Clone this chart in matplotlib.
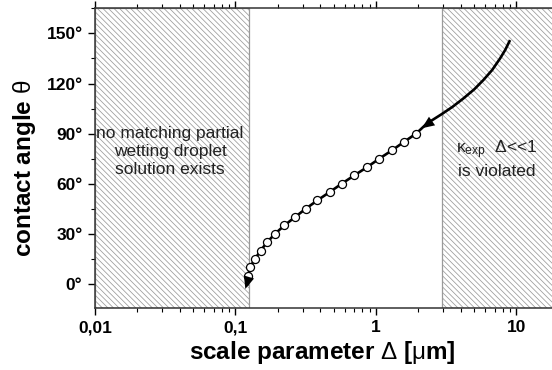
import matplotlib
matplotlib.use("Agg")
import matplotlib.pyplot as plt
from matplotlib.ticker import FixedLocator, NullFormatter, LogLocator

# ---- data ----
curve_delta = [0.1215, 0.1234, 0.1268, 0.1377, 0.151, 0.168, 0.191, 0.2225, 0.265, 0.316,
               0.382, 0.468, 0.570, 0.701, 0.867, 1.055, 1.30, 1.58, 1.93, 2.3,
               2.94, 3.5, 4.18, 5.0, 5.8, 6.7, 7.64, 8.3, 9.0]
curve_theta = [-1.0, 5, 10, 15, 20, 25, 30, 35, 40, 45,
               50, 55, 60, 65, 70, 75, 80, 85, 90, 96,
               101.7, 106, 111, 116.5, 122, 128, 135, 140, 146]
circle_delta = [0.1234, 0.1268, 0.1377, 0.151, 0.168, 0.191, 0.2225, 0.265, 0.316,
                0.382, 0.468, 0.570, 0.701, 0.867, 1.055, 1.30, 1.58, 1.93]
circle_theta = [5, 10, 15, 20, 25, 30, 35, 40, 45, 50, 55, 60, 65, 70, 75, 80, 85, 90]
arrow_tip_delta = [0.1175, 2.12]
arrow_tip_theta = [-3.0, 93.2]
arrow_tail_delta = [0.1235, 2.6]
arrow_tail_theta = [3.0, 98.5]
region_left = (0.01, 0.125)
region_right = (2.95, 20)
xticks = [0.01, 0.1, 1, 10]
xticklabels = ["0,01", "0,1", "1", "10"]
yticks = [0, 30, 60, 90, 120, 150]
yticklabels = ["0°", "30°", "60°", "90°", "120°", "150°"]

plt.rcParams['font.family'] = ['Liberation Sans', 'DejaVu Sans']
plt.rcParams['mathtext.fontset'] = 'custom'
plt.rcParams['mathtext.rm'] = 'Liberation Sans'
plt.rcParams['mathtext.it'] = 'Liberation Sans:italic'
plt.rcParams['mathtext.bf'] = 'Liberation Sans:bold'
plt.rcParams['hatch.linewidth'] = 0.55

W, H = 552, 370
fig = plt.figure(figsize=(W / 100, H / 100), dpi=100)
x0, x1 = 95, 95 + 3.301 * 140.5
y0, y1 = 308, 8
ax = fig.add_axes([x0 / W, (H - y0) / H, (x1 - x0) / W, (y0 - y1) / H])
ax.set_xscale('log')
ax.set_xlim(0.01, 20)
ax.set_ylim(-14.4, 165.2)

for (a, b) in (region_left, region_right):
    ax.axvspan(a, b, facecolor='white', edgecolor='#9a9a9a', hatch='\\' * 6, lw=0.9, zorder=0)

ax.plot(curve_delta, curve_theta, color='black', lw=1.9, zorder=3, solid_capstyle='butt')
ax.plot(circle_delta, circle_theta, 'o', ms=5.8, mfc='white', mec='black', mew=0.9, zorder=4)
for i in range(len(arrow_tip_delta)):
    ax.annotate('', xy=(arrow_tip_delta[i], arrow_tip_theta[i]),
                xytext=(arrow_tail_delta[i], arrow_tail_theta[i]),
                arrowprops=dict(arrowstyle='-|>,head_length=0.9,head_width=0.38',
                                color='black', lw=0, shrinkA=0, shrinkB=0), zorder=5)

ax.xaxis.set_major_locator(FixedLocator(xticks))
ax.set_xticklabels(xticklabels)
ax.xaxis.set_minor_locator(LogLocator(base=10, subs=range(2, 10)))
ax.xaxis.set_minor_formatter(NullFormatter())
ax.set_yticks(yticks)
ax.set_yticklabels(yticklabels)
ax.yaxis.set_minor_locator(FixedLocator(range(-15, 166, 15)))

ax.tick_params(axis='both', which='major', direction='out', length=5, width=1, labelsize=12.5, pad=4)
ax.tick_params(axis='both', which='minor', direction='out', length=3, width=0.8)
ax.tick_params(axis='x', which='both', top=True)
for lab in ax.get_xticklabels() + ax.get_yticklabels():
    lab.set_fontweight('bold')
for s in ax.spines.values():
    s.set_color('#333333')
    s.set_linewidth(1.1)

ax.set_xlabel(r'scale parameter $\mathrm{\Delta}$ [$\mathrm{\mu}$m]', fontsize=17.5, fontweight='bold')
ax.xaxis.set_label_coords((322 - x0) / (x1 - x0), -(352 - y0) / (y0 - y1), transform=ax.transAxes)
ax.xaxis.label.set_va('center')
ax.set_ylabel(r'contact angle $\mathrm{\theta}$', fontsize=17.5, fontweight='bold')
ax.yaxis.set_label_coords(-(x0 - 25) / (x1 - x0), (y0 - 168) / (y0 - y1), transform=ax.transAxes)
ax.yaxis.label.set_va('center')

ax.text(0.0342, 79, 'no matching partial\nwetting droplet\nsolution exists', ha='center', va='center',
        fontsize=12.5, color='#222222', linespacing=1.25, zorder=6)
ax.text(7.26, 75, r'$\mathrm{\kappa_{exp}}$  $\mathrm{\Delta}$<<1' + '\nis violated', ha='center', va='center',
        fontsize=12.5, color='#222222', linespacing=1.2, zorder=6)

fig.savefig('out.png', dpi=100)
